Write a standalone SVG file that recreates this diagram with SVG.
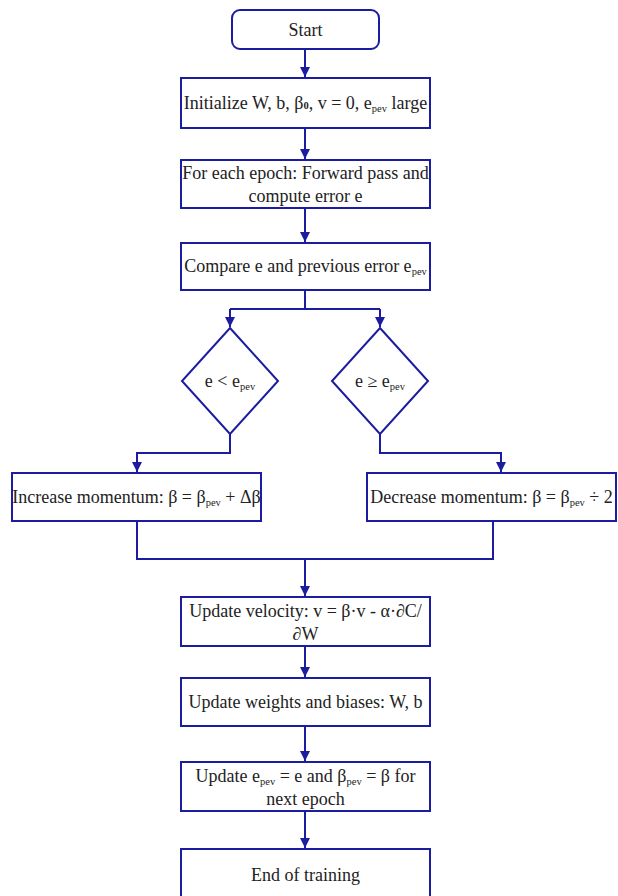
<svg xmlns="http://www.w3.org/2000/svg" width="618" height="896" viewBox="0 0 618 896">
<style>
.box{fill:#fff;stroke:#1c1ca0;stroke-width:2}
.ln{fill:none;stroke:#1c1ca0;stroke-width:2}
text{font-size:18px;fill:#222;text-anchor:middle}
.s{font-size:10.5px}
</style>
<defs>
<marker id="ah" markerUnits="userSpaceOnUse" markerWidth="12" markerHeight="12" refX="10" refY="6" orient="auto">
<path d="M0,1 L10,6 L0,11 Z" fill="#1c1ca0"/>
</marker>
</defs>
<rect width="618" height="896" fill="#fff"/>
<g id="connectors">
<path class="ln" d="M305,49 V77" marker-end="url(#ah)"/>
<path class="ln" d="M305,128 V159" marker-end="url(#ah)"/>
<path class="ln" d="M305,208 V242" marker-end="url(#ah)"/>
<path class="ln" d="M305,290 V309 M230,309 H380"/>
<path class="ln" d="M230,309 V327" marker-end="url(#ah)"/>
<path class="ln" d="M380,309 V327" marker-end="url(#ah)"/>
<path class="ln" d="M230,434 V453 H137 V472" marker-end="url(#ah)"/>
<path class="ln" d="M380,434 V453 H501 V472" marker-end="url(#ah)"/>
<path class="ln" d="M137,521 V559 H493 V521"/>
<path class="ln" d="M305,559 V596" marker-end="url(#ah)"/>
<path class="ln" d="M305,646 V677" marker-end="url(#ah)"/>
<path class="ln" d="M305,726 V761" marker-end="url(#ah)"/>
<path class="ln" d="M305,811 V848" marker-end="url(#ah)"/>
</g>
<g font-family="Liberation Serif, Times New Roman, serif">
<g id="start">
<rect class="box" x="232" y="10" width="147" height="39" rx="8"/>
<text x="305.5" y="36">Start</text>
</g>
<g id="init">
<rect class="box" x="181" y="78" width="249" height="50"/>
<text x="305.5" y="109">Initialize W, b, β<tspan class="s" font-weight="bold">0</tspan>, v = 0, e<tspan class="s" dy="3">pev</tspan><tspan dy="-3"> large</tspan></text>
</g>
<g id="forward">
<rect class="box" x="181" y="160" width="249" height="48"/>
<text x="305.5" y="179">For each epoch: Forward pass and</text>
<text x="305.5" y="202">compute error e</text>
</g>
<g id="compare">
<rect class="box" x="181" y="243" width="249" height="47"/>
<text x="305.5" y="272">Compare e and previous error e<tspan class="s" dy="3">pev</tspan></text>
</g>
<g id="dec-left">
<path class="box" d="M230,328 L278,381 L230,434 L182,381 Z"/>
<text x="230" y="387">e &lt; e<tspan class="s" dy="3">pev</tspan></text>
</g>
<g id="dec-right">
<path class="box" d="M380,328 L428,381 L380,434 L332,381 Z"/>
<text x="380" y="387">e ≥ e<tspan class="s" dy="3">pev</tspan></text>
</g>
<g id="increase">
<rect class="box" x="12" y="473" width="249" height="48"/>
<text x="136.5" y="503">Increase momentum: β = β<tspan class="s" dy="3">pev</tspan><tspan dy="-3"> + Δβ</tspan></text>
</g>
<g id="decrease">
<rect class="box" x="367" y="473" width="249" height="48"/>
<text x="491.5" y="503">Decrease momentum: β = β<tspan class="s" dy="3">pev</tspan><tspan dy="-3"> ÷ 2</tspan></text>
</g>
<g id="velocity">
<rect class="box" x="181" y="597" width="249" height="49"/>
<text x="305.5" y="617">Update velocity: v = β·v - α·∂C/</text>
<text x="305.5" y="640">∂W</text>
</g>
<g id="weights">
<rect class="box" x="181" y="678" width="249" height="48"/>
<text x="305.5" y="708">Update weights and biases: W, b</text>
</g>
<g id="update-prev">
<rect class="box" x="181" y="762" width="249" height="49"/>
<text x="305.5" y="782">Update e<tspan class="s" dy="3">pev</tspan><tspan dy="-3"> = e and β</tspan><tspan class="s" dy="3">pev</tspan><tspan dy="-3"> = β for</tspan></text>
<text x="305.5" y="805">next epoch</text>
</g>
<g id="end">
<rect class="box" x="181" y="849" width="249" height="60"/>
<text x="305.5" y="881">End of training</text>
</g>
</g>
</svg>
